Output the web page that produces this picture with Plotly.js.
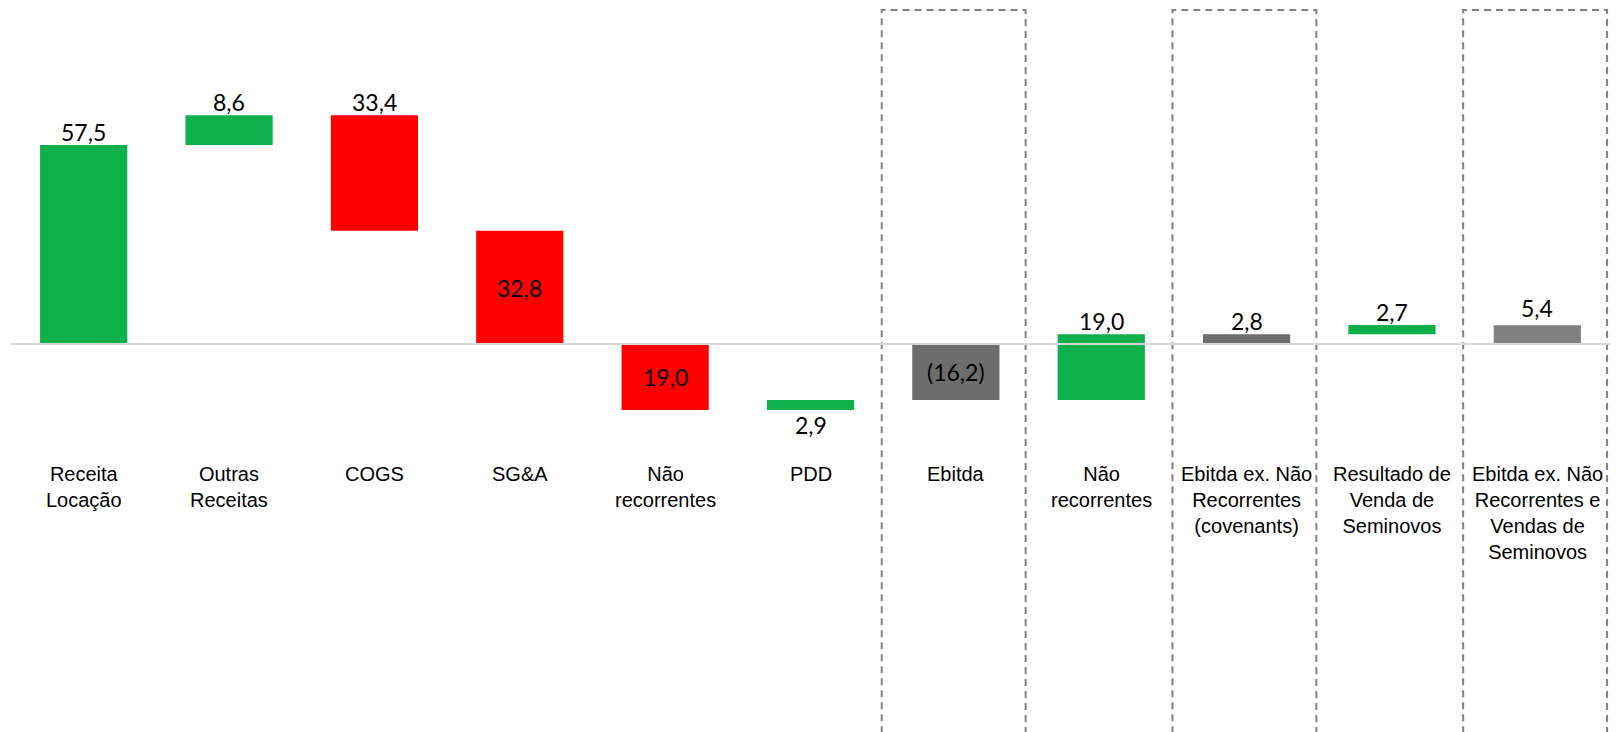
<!DOCTYPE html>
<html>
<head>
<meta charset="utf-8">
<script src="https://cdn.plot.ly/plotly-3.0.1.min.js"></script>
<style>
  html, body { margin: 0; padding: 0; background: #ffffff; }
  #chart { width: 1624px; height: 732px; }
</style>
</head>
<body>
<div id="chart"></div>
<script>
// Bridge from revenue to EBITDA (R$ mi)
const categories = [
  'Receita<br>Locação',
  'Outras<br>Receitas',
  'COGS',
  'SG&A',
  'Não<br>recorrentes',
  'PDD',
  'Ebitda',
  'Não<br>recorrentes',
  'Ebitda ex. Não<br>Recorrentes<br>(covenants)',
  'Resultado de<br>Venda de<br>Seminovos',
  'Ebitda ex. Não<br>Recorrentes e<br>Vendas de<br>Seminovos'
];
const changes  = [57.5, 8.6, -33.4, -32.8, -19.0, 2.9, -16.2, 19.0, 2.8, 2.7, 5.4];
const measures = ['relative', 'relative', 'relative', 'relative', 'relative', 'relative',
                  'total', 'relative', 'total', 'relative', 'total'];

// Styling
const GREEN = '#0DB04B';
const RED = '#FF0000';
const totalColors = ['#6D6D6D', '#6D6D6D', '#808080'];
const labelPlace = ['above', 'above', 'above', 'inside', 'inside', 'below',
                    'inside', 'above', 'above', 'above', 'above'];
const labelLift = [0, 0, 0, 0, 0, 0, 0, 0, 0, 0, 4];

// Running cumulative: relative steps stack on the running total, totals restart from zero
const bases = [], colors = [];
let running = 0, totalIdx = 0;
changes.forEach((v, i) => {
  if (measures[i] === 'total') {
    bases.push(0);
    colors.push(totalColors[totalIdx++]);
    running = v;
  } else {
    bases.push(running);
    colors.push(v >= 0 ? GREEN : RED);
    running += v;
  }
});
const xs = changes.map((_, i) => i);

function fmt(v, measure) {
  const s = Math.abs(v).toFixed(1).replace('.', ',');
  return (measure === 'total' && v < 0) ? '(' + s + ')' : s;
}

const trace = {
  type: 'bar',
  x: xs,
  y: changes,
  base: bases,
  marker: { color: colors, line: { width: 0 } },
  hoverinfo: 'skip',
  showlegend: false
};

const annotations = [];
changes.forEach((v, i) => {
  const lo = Math.min(bases[i], bases[i] + v);
  const hi = Math.max(bases[i], bases[i] + v);
  const a = {
    x: i, xref: 'x', yref: 'y',
    text: fmt(v, measures[i]),
    showarrow: false,
    font: { family: 'Lato, Carlito, sans-serif', size: 23, color: '#000000' }
  };
  if (labelPlace[i] === 'above') {
    a.y = hi; a.yanchor = 'bottom'; a.yshift = -3 + labelLift[i];
  } else if (labelPlace[i] === 'below') {
    a.y = lo; a.yanchor = 'top'; a.yshift = 1;
  } else {
    a.y = (lo + hi) / 2; a.yanchor = 'middle'; a.yshift = 0;
  }
  annotations.push(a);
});

// Category names under the bars
categories.forEach((c, i) => {
  annotations.push({
    x: i, xref: 'x',
    y: 1 - 461 / 732, yref: 'paper', yanchor: 'top',
    text: c.replace(/&/g, '&amp;'),
    showarrow: false,
    align: 'center',
    font: { family: '"Liberation Sans", Arial, sans-serif', size: 20, color: '#000000' }
  });
});

const shapes = [];
// Dashed frames around the subtotal columns (open at the bottom)
measures.forEach((m, i) => {
  if (m !== 'total') return;
  const x0 = i - 0.51, x1 = i + 0.48;
  shapes.push({
    type: 'path', xref: 'x', yref: 'paper',
    path: `M ${x0},-0.1 L ${x0},${1 - 10 / 732} L ${x1},${1 - 10 / 732} L ${x1},-0.1`,
    line: { color: '#808080', width: 2, dash: '7px,5px' },
    layer: 'above'
  });
});
// Zero line drawn over the bars
shapes.push({
  type: 'line', xref: 'paper', yref: 'y',
  x0: 0, x1: 1, y0: 0, y1: 0,
  line: { color: '#D9D9D9', width: 2 },
  layer: 'above'
});

const layout = {
  width: 1624, height: 732,
  margin: { l: 11, r: 14, t: 0, b: 0, pad: 0 },
  paper_bgcolor: '#ffffff', plot_bgcolor: '#ffffff',
  bargap: 0.4,
  xaxis: { range: [-0.5, 10.5], visible: false, fixedrange: true },
  yaxis: { range: [-112.1, 99.39], visible: false, zeroline: false, fixedrange: true },
  annotations: annotations,
  shapes: shapes,
  showlegend: false
};

Plotly.newPlot('chart', [trace], layout, { displayModeBar: false, staticPlot: true });
</script>
</body>
</html>
